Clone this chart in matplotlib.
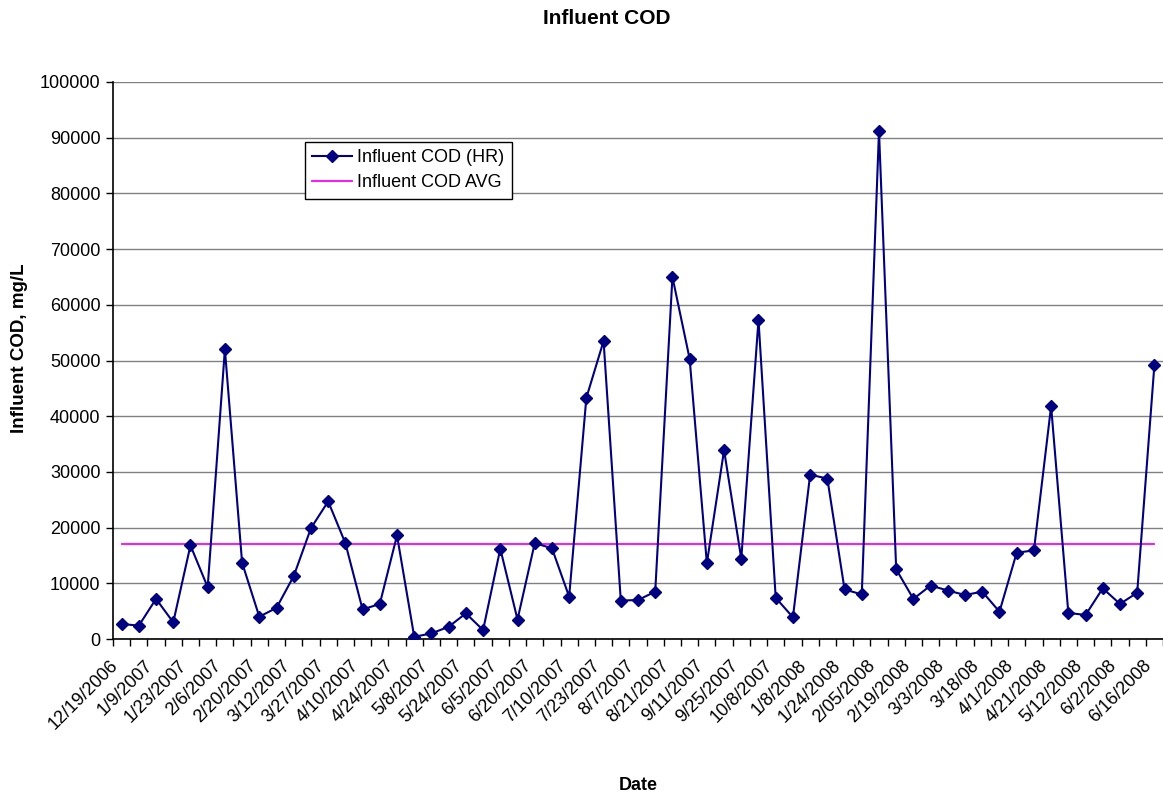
import matplotlib
matplotlib.use("Agg")
import matplotlib.pyplot as plt
from matplotlib.ticker import FixedLocator, MultipleLocator

plt.rcParams['font.family'] = ['Liberation Sans', 'DejaVu Sans']

# every other sample is labelled on the x axis
date_labels = ['12/19/2006', '1/9/2007', '1/23/2007', '2/6/2007', '2/20/2007',
               '3/12/2007', '3/27/2007', '4/10/2007', '4/24/2007', '5/8/2007',
               '5/24/2007', '6/5/2007', '6/20/2007', '7/10/2007', '7/23/2007',
               '8/7/2007', '8/21/2007', '9/11/2007', '9/25/2007', '10/8/2007',
               '1/8/2008', '1/24/2008', '2/05/2008', '2/19/2008', '3/3/2008',
               '3/18/08', '4/1/2008', '4/21/2008', '5/12/2008', '6/2/2008',
               '6/16/2008']

cod_hr = [2700, 2400, 7200, 3000, 16800, 9300, 52000, 13700, 4000, 5600,
          11300, 19900, 24700, 17200, 5300, 6300, 18600, 400, 1000, 2200,
          4600, 1600, 16200, 3500, 17200, 16300, 7600, 43300, 53500, 6900,
          7000, 8500, 65000, 50300, 13600, 33900, 14400, 57300, 7400, 3900,
          29500, 28800, 8900, 8000, 91200, 12500, 7200, 9600, 8700, 7900,
          8500, 4900, 15500, 15900, 41800, 4700, 4300, 9100, 6300, 8300,
          49200]

cod_avg = 17050

n = len(cod_hr)
x = list(range(n))

fig = plt.figure(figsize=(11.63, 7.99), dpi=100)
ax = fig.add_axes([113 / 1163, 1 - 639 / 799, 1050 / 1163, (639 - 82) / 799])

ax.plot(x, cod_hr, color='#000080', lw=1.5, marker='D', markersize=6.5,
        label='Influent COD (HR)', zorder=3)
ax.plot(x, [cod_avg] * n, color='#FF00FF', lw=1.3, label='Influent COD AVG', zorder=2)

ax.set_xlim(-0.5, n - 0.5)
ax.set_ylim(0, 100000)
ax.yaxis.set_major_locator(MultipleLocator(10000))
ax.grid(axis='y', color='#808080', lw=1.0)
ax.set_axisbelow(True)

# labels on every other category, tick marks between categories
ax.xaxis.set_major_locator(FixedLocator(x[::2]))
ax.set_xticklabels(date_labels, rotation=45, ha='right', fontsize=13)
ax.xaxis.set_minor_locator(FixedLocator([i - 0.5 for i in range(n + 1)]))
ax.tick_params(axis='x', which='major', length=0, pad=13)
ax.tick_params(axis='x', which='minor', length=5, width=1, color='black')
ax.tick_params(axis='y', length=5, width=1, labelsize=13, pad=4)

for s in ['top', 'right']:
    ax.spines[s].set_visible(False)
for s in ['left', 'bottom']:
    ax.spines[s].set_color('black')
    ax.spines[s].set_linewidth(1.2)

fig.text(607 / 1163, 1 - 18 / 799, 'Influent COD', ha='center', va='center',
         fontsize=15, fontweight='bold')
fig.text(20 / 1163, 1 - 348 / 799, 'Influent COD, mg/L', ha='center', va='center',
         rotation=90, fontsize=13.5, fontweight='bold')
fig.text(638 / 1163, 1 - 786 / 799, 'Date', ha='center', va='center',
         fontsize=13, fontweight='bold')

leg = ax.legend(loc='upper left', bbox_to_anchor=(305 / 1163, 1 - 142 / 799),
                bbox_transform=fig.transFigure, fontsize=13, frameon=True,
                fancybox=False, edgecolor='black', framealpha=1,
                handlelength=2.2, borderpad=0.4, labelspacing=0.45,
                handletextpad=0.3, borderaxespad=0)
leg.get_frame().set_linewidth(1.0)

fig.savefig('out.png', dpi=100)
